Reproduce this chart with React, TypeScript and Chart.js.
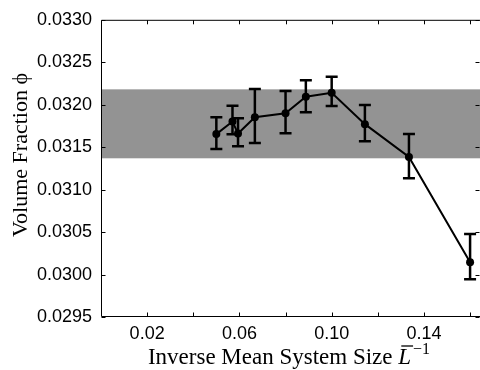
import React, { useEffect, useRef } from "react";
import { Chart, registerables } from "chart.js";

Chart.register(...registerables);

// ---- data ----
const xValues = [0.05, 0.057, 0.0594, 0.0667, 0.08, 0.0888, 0.1, 0.1144, 0.1335, 0.16];
const yValues = [0.031654, 0.031802, 0.03166, 0.031852, 0.031899, 0.032094, 0.032141, 0.031771, 0.031385, 0.030146];
const errUp = [0.000199, 0.000187, 0.00018, 0.000332, 0.000262, 0.000195, 0.000187, 0.000227, 0.00027, 0.000332];
const errDown = [0.000175, 0.00015, 0.00015, 0.000304, 0.000234, 0.000183, 0.000155, 0.000202, 0.00025, 0.0002];
const bandLow = 0.031369;
const bandHigh = 0.032181;
const xTickMarks = [0.02, 0.04, 0.06, 0.08, 0.1, 0.12, 0.14, 0.16];
const xTickLabels = ["0.02", "0.06", "0.10", "0.14"];
const yTickValues = [0.0295, 0.03, 0.0305, 0.031, 0.0315, 0.032, 0.0325, 0.033];
const yTitle = "Volume Fraction \u03d5";
const xTitleMain = "Inverse Mean System Size ";
const xTitleSymbol = "L";
const xTitleSup = "\u22121";

const X_MIN = 0;
const X_MAX = 0.1643;
const Y_MIN = 0.0295;
const Y_MAX = 0.033;

const decorPlugin = {
  id: "decor",
  beforeDatasetsDraw(chart: any) {
    const { ctx, chartArea } = chart;
    const xs = chart.scales.x;
    const ys = chart.scales.y;
    // gray band
    const yTop = ys.getPixelForValue(bandHigh);
    const yBot = ys.getPixelForValue(bandLow);
    ctx.save();
    ctx.fillStyle = "#939393";
    ctx.fillRect(chartArea.left, yTop, chartArea.right - chartArea.left, yBot - yTop);
    // error bars
    ctx.strokeStyle = "#000";
    for (let i = 0; i < xValues.length; i++) {
      const px = xs.getPixelForValue(xValues[i]);
      const pt = ys.getPixelForValue(yValues[i] + errUp[i]);
      const pb = ys.getPixelForValue(yValues[i] - errDown[i]);
      ctx.lineWidth = 2.5;
      ctx.beginPath();
      ctx.moveTo(px, pt);
      ctx.lineTo(px, pb);
      ctx.stroke();
      ctx.lineWidth = 2.5;
      ctx.beginPath();
      ctx.moveTo(px - 6, pt);
      ctx.lineTo(px + 6, pt);
      ctx.moveTo(px - 6, pb);
      ctx.lineTo(px + 6, pb);
      ctx.stroke();
    }
    ctx.restore();
  },
  afterDraw(chart: any) {
    const { ctx, chartArea } = chart;
    const xs = chart.scales.x;
    const ys = chart.scales.y;
    const L = chartArea.left + 0.5;
    const R = chartArea.right + 0.5;
    const T = chartArea.top + 0.5;
    const B = chartArea.bottom - 0.5;
    ctx.save();
    ctx.strokeStyle = "#000";
    ctx.lineWidth = 1;
    ctx.beginPath();
    ctx.moveTo(L, T);
    ctx.lineTo(R, T);
    ctx.lineTo(R, B);
    ctx.lineTo(L, B);
    ctx.closePath();
    ctx.stroke();
    // tick marks
    ctx.beginPath();
    for (const v of xTickMarks) {
      const px = Math.round(xs.getPixelForValue(v)) + 0.5;
      ctx.moveTo(px, B);
      ctx.lineTo(px, B - 4);
      ctx.moveTo(px, T);
      ctx.lineTo(px, T + 4);
    }
    for (const v of yTickValues) {
      const py = Math.round(ys.getPixelForValue(v)) + 0.5;
      ctx.moveTo(L, py);
      ctx.lineTo(L + 4, py);
      ctx.moveTo(R - 1, py);
      ctx.lineTo(R - 5, py);
    }
    ctx.stroke();

    // y title
    ctx.fillStyle = "#000";
    ctx.font = '22px "Liberation Serif"';
    ctx.save();
    ctx.translate(27, 155);
    ctx.rotate(-Math.PI / 2);
    ctx.textAlign = "center";
    ctx.textBaseline = "alphabetic";
    ctx.fillText(yTitle, 0, 0);
    ctx.restore();

    // x title
    const baseline = 364;
    const cx = 289;
    ctx.textAlign = "left";
    ctx.textBaseline = "alphabetic";
    ctx.font = '23px "Liberation Serif"';
    const wMain = ctx.measureText(xTitleMain).width;
    ctx.font = 'italic 23px "Liberation Serif"';
    const wL = ctx.measureText(xTitleSymbol).width;
    ctx.font = '16px "Liberation Serif"';
    const wSup = ctx.measureText(xTitleSup).width;
    const total = wMain + wL + 2 + wSup;
    let x0 = cx - total / 2;
    ctx.font = '23px "Liberation Serif"';
    ctx.fillText(xTitleMain, x0, baseline);
    x0 += wMain;
    ctx.font = 'italic 23px "Liberation Serif"';
    ctx.fillText(xTitleSymbol, x0, baseline);
    ctx.lineWidth = 1.3;
    ctx.beginPath();
    ctx.moveTo(x0 + 3, baseline - 18);
    ctx.lineTo(x0 + wL + 2, baseline - 18);
    ctx.stroke();
    x0 += wL + 2;
    ctx.font = '16px "Liberation Serif"';
    ctx.fillText(xTitleSup, x0, baseline - 10);
    ctx.restore();
  },
};

export default function App() {
  const canvasRef = useRef<HTMLCanvasElement | null>(null);

  useEffect(() => {
    document.body.style.margin = "0";
    const canvas = canvasRef.current;
    if (!canvas) return;
    const points = xValues.map((x, i) => ({ x, y: yValues[i] }));
    const chart = new Chart(canvas, {
      type: "scatter",
      data: {
        datasets: [
          {
            data: points,
            showLine: true,
            borderColor: "#000",
            borderWidth: 2,
            backgroundColor: "#000",
            pointRadius: 4,
            pointBackgroundColor: "#000",
            pointBorderColor: "#000",
            pointBorderWidth: 0,
          },
        ],
      },
      options: {
        animation: false,
        responsive: false,
        devicePixelRatio: 1,
        layout: { autoPadding: false, padding: { top: 17, right: 0, bottom: 0, left: 0 } },
        plugins: { legend: { display: false }, tooltip: { enabled: false } },
        scales: {
          x: {
            type: "linear",
            min: X_MIN,
            max: X_MAX,
            grid: { display: false, drawTicks: false },
            border: { display: false },
            ticks: {
              stepSize: 0.02,
              includeBounds: false,
              autoSkip: false,
              maxRotation: 0,
              padding: 6,
              color: "#000",
              font: { family: "Liberation Sans", size: 18 },
              callback: (v: any) => {
                const s = Number(v).toFixed(2);
                return xTickLabels.includes(s) ? s : "";
              },
            },
            afterFit: (scale: any) => {
              scale.height = 53;
            },
          },
          y: {
            type: "linear",
            min: Y_MIN,
            max: Y_MAX,
            grid: { display: false, drawTicks: false },
            border: { display: false },
            ticks: {
              stepSize: 0.0005,
              autoSkip: false,
              padding: 9,
              color: "#000",
              font: { family: "Liberation Sans", size: 18 },
              callback: (v: any) => Number(v).toFixed(4),
            },
            afterFit: (scale: any) => {
              scale.width = 101;
            },
          },
        },
      },
      plugins: [decorPlugin],
    } as any);
    return () => chart.destroy();
  }, []);

  return (
    <div style={{ width: 480, height: 370 }}>
      <canvas ref={canvasRef} width={480} height={370} style={{ display: "block", width: 480, height: 370 }} />
    </div>
  );
}
